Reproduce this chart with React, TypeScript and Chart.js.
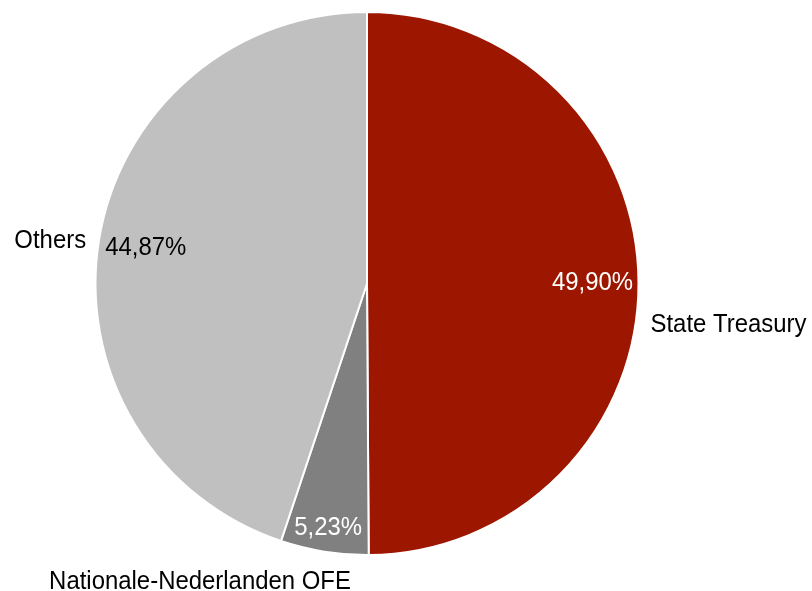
import React, { useEffect, useRef } from "react";
import { Chart, registerables } from "chart.js";

Chart.register(...registerables);

const categories = ["State Treasury", "Nationale-Nederlanden OFE", "Others"];
const shares = [49.9, 5.23, 44.87];
const valueLabels = ["49,90%", "5,23%", "44,87%"];
const sliceColors = ["#9C1600", "#808080", "#C0C0C0"];
const valueTextColors = ["#FFFFFF", "#FFFFFF", "#000000"];

const FONT = '"Liberation Sans", Arial, sans-serif';
const FONT_SIZE = 26;
const SQUEEZE = 0.92;

// category label placement: anchor around the arc + nudge
const catPlacement = [
  { align: "left", dx: 4, dy: 42 },
  { align: "center", dx: -123, dy: 22 },
  { align: "right", dx: -5, dy: 2 },
];

function drawSqueezed(ctx: any, txt: string, x: number, y: number, align: string) {
  const w = ctx.measureText(txt).width * SQUEEZE;
  let left = x;
  if (align === "center") left = x - w / 2;
  else if (align === "right") left = x - w;
  ctx.save();
  ctx.translate(left, y);
  ctx.scale(SQUEEZE, 1);
  ctx.textAlign = "left";
  ctx.fillText(txt, 0, 0);
  ctx.restore();
}

const labelPlugin = {
  id: "pieLabels",
  afterDatasetsDraw(chart: any) {
    const ctx = chart.ctx;
    const meta = chart.getDatasetMeta(0);
    ctx.save();
    ctx.font = `${FONT_SIZE}px ${FONT}`;
    ctx.textBaseline = "middle";
    meta.data.forEach((arc: any, i: number) => {
      const { x, y, startAngle, endAngle, outerRadius } = arc.getProps(
        ["x", "y", "startAngle", "endAngle", "outerRadius"],
        true
      );
      const mid = (startAngle + endAngle) / 2;
      const ux = Math.cos(mid);
      const uy = Math.sin(mid);
      // value label: inside end
      const txt = valueLabels[i];
      const w = ctx.measureText(txt).width * SQUEEZE + 4;
      const h = 28;
      const pad = 3;
      let lo = 0,
        hi = outerRadius;
      for (let k = 0; k < 40; k++) {
        const d = (lo + hi) / 2;
        const cx = ux * d,
          cy = uy * d;
        let ok = true;
        for (const sx of [-1, 1])
          for (const sy of [-1, 1]) {
            const px = cx + (sx * w) / 2,
              py = cy + (sy * h) / 2;
            if (Math.hypot(px, py) > outerRadius - pad) ok = false;
          }
        if (ok) lo = d;
        else hi = d;
      }
      ctx.fillStyle = valueTextColors[i];
      drawSqueezed(ctx, txt, x + ux * lo, y + uy * lo, "center");

      // category label
      const p = catPlacement[i];
      const ax = x + ux * (outerRadius + 8) + p.dx;
      const ay = y + uy * (outerRadius + 8) + p.dy;
      ctx.fillStyle = "#000000";
      drawSqueezed(ctx, categories[i], ax, ay, p.align);
    });
    ctx.restore();
  },
};

export default function App() {
  const ref = useRef<HTMLCanvasElement>(null);
  useEffect(() => {
    const chart = new Chart(ref.current!, {
      type: "pie",
      data: {
        labels: categories,
        datasets: [
          {
            data: shares,
            backgroundColor: sliceColors,
            borderColor: "#FFFFFF",
            borderWidth: 2,
          },
        ],
      },
      options: {
        responsive: false,
        animation: false,
        layout: { padding: { left: 94, right: 172, top: 11, bottom: 35 } },
        plugins: {
          legend: { display: false },
          tooltip: { enabled: false },
        },
      },
      plugins: [labelPlugin],
    });
    return () => chart.destroy();
  }, []);
  return (
    <div style={{ position: "fixed", left: 0, top: 0, width: 812, height: 591, background: "#fff" }}>
      <canvas ref={ref} width={812} height={591} style={{ width: 812, height: 591 }} />
    </div>
  );
}
